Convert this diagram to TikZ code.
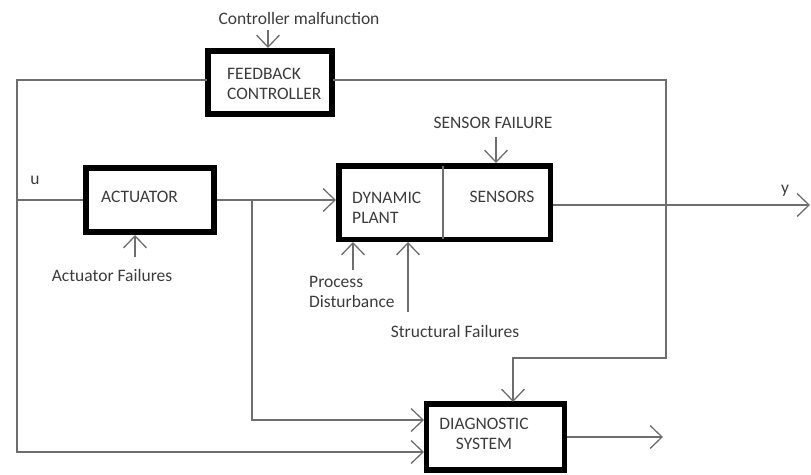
\documentclass[tikz,border=0pt]{standalone}
\usepackage{fontspec}
\setmainfont{Carlito}
\usetikzlibrary{arrows.meta}
\definecolor{wirecol}{HTML}{6E6E6E}
\definecolor{txtcol}{HTML}{3C3C3C}
\begin{document}
\begin{tikzpicture}[x=1pt,y=-1pt,
  wire/.style={draw=wirecol, line width=1.4pt},
  arr/.style={wire, -{Straight Barb[length=12pt,width=23pt,line width=1.3pt]}},
  blk/.style={draw=black, line width=5.5pt, minimum width=#1, inner sep=0pt},
  lbl/.style={text=txtcol, font=\fontsize{17.5}{20}\selectfont, inner sep=0pt},
  every node/.style={}]
\useasboundingbox (0,0) rectangle (811,474);
% boxes
\node[blk=124, minimum height=63] (fb) at (270,82.5) {};
\node[blk=128, minimum height=64] (act) at (150,200) {};
\node[blk=211.5, minimum height=73.5] (plant) at (444.5,202.5) {};
\node[blk=138, minimum height=66] (diag) at (495.5,437) {};
\coordinate (divT) at (443,166);
\coordinate (divB) at (443,239);
\draw[wirecol, line width=1.2pt] (divT) -- (divB);
% box texts
\node[lbl, anchor=west, align=left] (fbt) at (227,84) {FEEDBACK\\CONTROLLER};
\node[lbl, anchor=west] (actt) at (101,197) {ACTUATOR};
\node[lbl, anchor=west, align=left] (plantt) at (352,208) {DYNAMIC\\PLANT};
\node[lbl] (senst) at (502,197) {SENSORS};
\node[lbl, align=center] (diagt) at (484,434) {DIAGNOSTIC\\SYSTEM};
% labels
\node[lbl] (cm) at (299,18) {Controller malfunction};
\node[lbl] (sf) at (493,123) {SENSOR FAILURE};
\node[lbl] (af) at (112,275) {Actuator Failures};
\node[lbl, anchor=west, align=left] (pd) at (309,292) {Process\\Disturbance};
\node[lbl] (stf) at (455,331) {Structural Failures};
\node[lbl] (u) at (35,180) {u};
\node[lbl] (y) at (785,191) {y};
% coordinates
\coordinate (uL) at (17,200);
\coordinate (br) at (252,200);
\coordinate (brB) at (252,420);
\coordinate (dIn1) at (424,420);
\coordinate (fbL) at (207,80);
\coordinate (lTop) at (17,80);
\coordinate (lBot) at (17,452);
\coordinate (dIn2) at (424,452);
\coordinate (fbR) at (333,80);
\coordinate (rTop) at (666,80);
\coordinate (rBot) at (666,358);
\coordinate (dTopL) at (513,358);
\coordinate (dTop) at (513,402);
\coordinate (pOut) at (553,205);
\coordinate (yEnd) at (810,205);
\coordinate (dOut) at (663,437);
\coordinate (cmS) at (268,30);
\coordinate (cmE) at (268,48);
\coordinate (sfS) at (496,137);
\coordinate (sfE) at (496,163);
\coordinate (afS) at (135,257);
\coordinate (afE) at (135,235);
\coordinate (pdS) at (353,270);
\coordinate (pdE) at (353,242);
\coordinate (stS) at (408,312);
\coordinate (stE) at (408,242);
\coordinate (pIn) at (336,200);
% wires
\draw[wire] (uL) -- (act.west);
\draw[arr] (act.east) -- (pIn);
\draw[arr] (br) -- (brB) -- (dIn1);
\draw[arr] (fbL) -- (lTop) -- (lBot) -- (dIn2);
\draw[arr] (fbR) -- (rTop) -- (rBot) -- (dTopL) -- (dTop);
\draw[arr] (pOut) -- (yEnd);
\draw[arr] (diag.east) -- (dOut);
\draw[arr] (cmS) -- (cmE);
\draw[arr] (sfS) -- (sfE);
\draw[arr] (afS) -- (afE);
\draw[arr] (pdS) -- (pdE);
\draw[arr] (stS) -- (stE);
\end{tikzpicture}
\end{document}
